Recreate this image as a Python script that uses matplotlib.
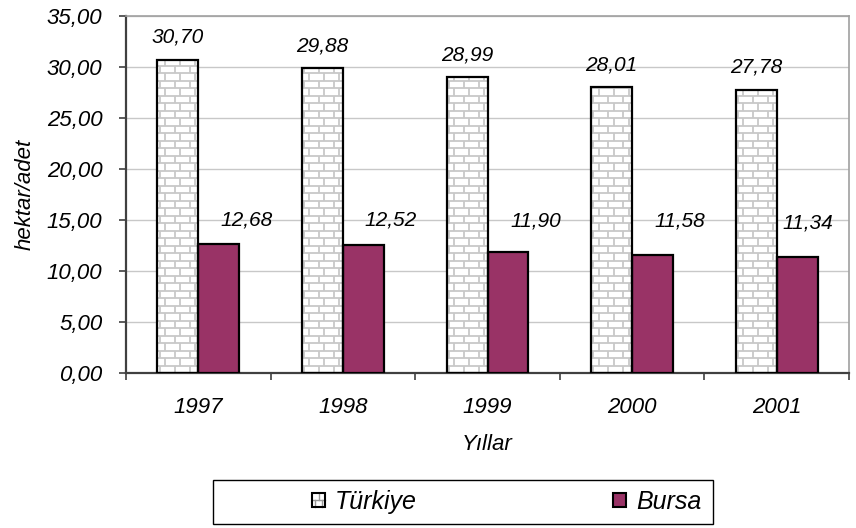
import matplotlib
matplotlib.use("Agg")
import matplotlib.pyplot as plt
import numpy as np
from matplotlib.collections import LineCollection
from matplotlib.patches import Rectangle
from matplotlib.lines import Line2D
from matplotlib.legend_handler import HandlerBase

# Veriler
years = ["1997", "1998", "1999", "2000", "2001"]
turkiye = [30.70, 29.88, 28.99, 28.01, 27.78]
bursa = [12.68, 12.52, 11.90, 11.58, 11.34]
series_names = ["Türkiye", "Bursa"]
y_ticks = [0, 5, 10, 15, 20, 25, 30, 35]

BURSA_COLOR = "#993366"
BRICK_COLOR = "#c8c8c8"
DPI = 100

plt.rcParams["font.family"] = ["Liberation Sans", "DejaVu Sans"]
plt.rcParams["font.style"] = "italic"


def fmt(v):
    return f"{v:.2f}".replace(".", ",")


def px(p):
    # pixels -> points
    return p * 72.0 / DPI


class BrickHandler(HandlerBase):
    """Petit carre 'brique' pour la legende."""
    def create_artists(self, legend, orig_handle, xdescent, ydescent,
                       width, height, fontsize, trans):
        x0, y0 = -xdescent, -ydescent
        arts = []
        segs = [
            ([x0, x0 + width], [y0 + height / 2] * 2),
            ([x0 + width / 2] * 2, [y0 + height / 2, y0 + height]),
            ([x0 + width / 4] * 2, [y0, y0 + height / 2]),
            ([x0 + 3 * width / 4] * 2, [y0, y0 + height / 2]),
        ]
        bg = Rectangle((x0, y0), width, height, facecolor="white",
                       edgecolor="none", transform=trans)
        arts.append(bg)
        for xs, ys in segs:
            arts.append(Line2D(xs, ys, color="#999999", lw=1.0, transform=trans))
        arts.append(Rectangle((x0, y0), width, height, facecolor="none",
                              edgecolor="black", lw=1.5, transform=trans))
        return arts


fig = plt.figure(figsize=(8.56, 5.28), dpi=DPI)
W, H = 856, 528
ax = fig.add_axes([126 / W, 1 - 373 / H, (849 - 126) / W, (373 - 16) / H])

n = len(years)
x = np.arange(n)
bw = 0.2835

ax.set_xlim(-0.5, n - 0.5)
ax.set_ylim(0, 35)

# grille
ax.set_axisbelow(True)
ax.yaxis.grid(True, color="#c8c8c8", lw=1.0)

bars_t = ax.bar(x - bw / 2, turkiye, bw, color="white", edgecolor="none", zorder=2)
bars_b = ax.bar(x + bw / 2, bursa, bw, color=BURSA_COLOR, edgecolor="black",
                lw=1.6, zorder=3)

# motif brique dans les barres Turkiye
ax_w_px = (849 - 126)
ax_h_px = (373 - 16)
ux = (n) / ax_w_px
uy = 35.0 / ax_h_px
brick_h = 7.5 * uy
brick_w = 15.0 * ux
for rect in bars_t:
    x0 = rect.get_x()
    x1 = x0 + rect.get_width()
    top = rect.get_height()
    segs = []
    k = 0
    while k * brick_h < top:
        yb = k * brick_h
        yt = min((k + 1) * brick_h, top)
        if k > 0:
            segs.append([(x0, yb), (x1, yb)])
        xs = x0 + (brick_w / 2 if k % 2 else brick_w * 0.15)
        while xs < x1:
            segs.append([(xs, yb), (xs, yt)])
            xs += brick_w
        k += 1
    lc = LineCollection(segs, colors=BRICK_COLOR, linewidths=1.3, zorder=2.5)
    lc.set_clip_path(rect)
    ax.add_collection(lc)
    ax.add_patch(Rectangle((x0, 0), rect.get_width(), top, fill=False,
                           edgecolor="black", lw=1.6, zorder=3))

# etiquettes
for i, v in enumerate(turkiye):
    ax.annotate(fmt(v), (x[i] - bw / 2, v), xytext=(0, px(17)),
                textcoords="offset points", ha="center", va="baseline",
                fontsize=15)
bursa_dx = [28, 27, 28, 27, 11]
bursa_dy = [18, 20, 25, 28, 29]
for i, v in enumerate(bursa):
    ax.annotate(fmt(v), (x[i] + bw / 2, v),
                xytext=(px(bursa_dx[i]), px(bursa_dy[i])),
                textcoords="offset points", ha="center", va="baseline",
                fontsize=15)

# axes
ax.set_yticks(y_ticks)
ax.set_yticklabels([fmt(t) for t in y_ticks], fontsize=16)
ax.tick_params(axis="y", direction="out", length=px(7), width=1.2,
               color="#404040", pad=12)

ax.set_xticks(np.arange(-0.5, n, 1.0))
ax.set_xticklabels([])
ax.set_xticks(x, minor=True)
ax.set_xticklabels(years, minor=True, fontsize=16)
ax.tick_params(axis="x", which="major", direction="out", length=px(7),
               width=1.2, color="#404040")
ax.tick_params(axis="x", which="minor", length=0, pad=17)

for s in ["left", "bottom"]:
    ax.spines[s].set_color("#404040")
    ax.spines[s].set_linewidth(1.6)
for s in ["top", "right"]:
    ax.spines[s].set_color("#a0a0a0")
    ax.spines[s].set_linewidth(1.2)

ax.set_xlabel("Yıllar", fontsize=16, labelpad=12)
ax.set_ylabel("hektar/adet", fontsize=16, labelpad=8)

# legende
handles = [Rectangle((0, 0), 1, 1, facecolor="white", edgecolor="black"),
           Rectangle((0, 0), 1, 1, facecolor=BURSA_COLOR, edgecolor="black",
                     lw=1.5)]
leg_fs = 18
fs_px = leg_fs * DPI / 72.0
leg = fig.legend(handles, series_names, loc="center left",
                 bbox_to_anchor=(312 / W, 1 - 502 / H), ncol=2,
                 frameon=False, fontsize=leg_fs, borderpad=0, borderaxespad=0,
                 handlelength=13 / fs_px, handleheight=13 / fs_px,
                 handletextpad=10 / fs_px, columnspacing=196 / fs_px,
                 handler_map={handles[0]: BrickHandler()})
fig.patches.append(Rectangle((213 / W, 1 - 524 / H), (713 - 213) / W,
                             (524 - 480) / H, transform=fig.transFigure,
                             fill=False, edgecolor="black", lw=1.0))

fig.savefig("out.png", dpi=DPI)
